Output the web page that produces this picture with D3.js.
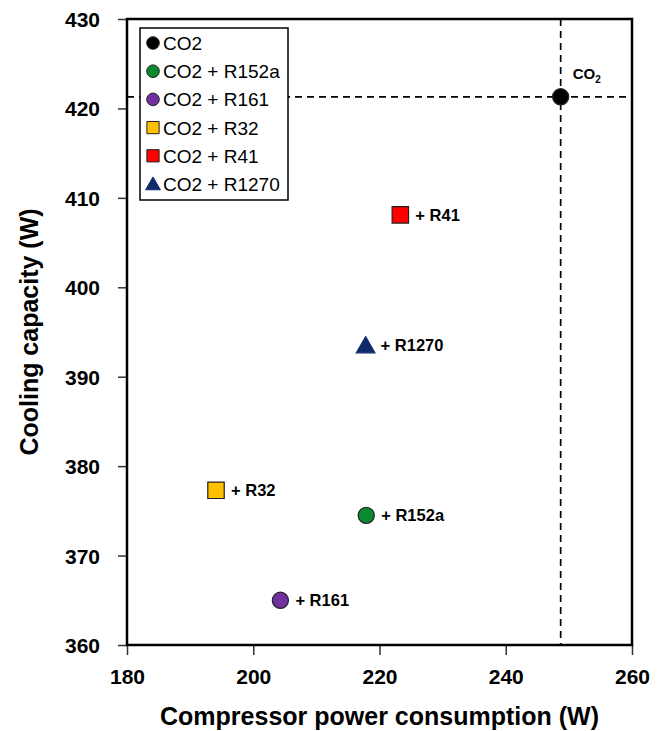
<!DOCTYPE html>
<html>
<head>
<meta charset="utf-8">
<script src="https://cdn.jsdelivr.net/npm/d3@7"></script>
<style>
  body { margin: 0; background: #fff; }
  svg { font-family: "Liberation Sans", Arial, sans-serif; }
</style>
</head>
<body>
<svg id="chart" width="668" height="731"></svg>
<script>
"use strict"

// data
var names   = ["CO2", "CO2 + R152a", "CO2 + R161", "CO2 + R32", "CO2 + R41", "CO2 + R1270"];
var labels  = ["CO2", "+ R152a", "+ R161", "+ R32", "+ R41", "+ R1270"];
var power   = [248.7, 217.9, 204.3, 194.1, 223.3, 217.8];
var cooling = [421.3, 374.5, 365.0, 377.3, 408.1, 393.5];
var shapes  = ["circle", "circle", "circle", "square", "square", "triangle"];
var fills   = ["#000000", "#0a8a2e", "#7030a0", "#ffc000", "#ff0000", "#0f2a6b"];
var xticks  = [180, 200, 220, 240, 260];
var yticks  = [360, 370, 380, 390, 400, 410, 420, 430];

var margin = {left: 127, top: 19, right: 36, bottom: 86};
var W = 668 - margin.left - margin.right;
var H = 731 - margin.top - margin.bottom;

var svg = d3.select("#chart");
var g = svg.append("g").attr("transform", "translate(" + margin.left + "," + margin.top + ")");

var x = d3.scaleLinear().domain([180, 260]).range([0, W]);
var y = d3.scaleLinear().domain([360, 430]).range([H, 0]);

var symbolFor = {
	circle:   d3.symbol().type(d3.symbolCircle).size(205),
	square:   d3.symbol().type(d3.symbolSquare).size(270),
	triangle: d3.symbol().type(d3.symbolTriangle).size(150)
};
var legendSymbol = {
	circle:   d3.symbol().type(d3.symbolCircle).size(125),
	square:   d3.symbol().type(d3.symbolSquare).size(150),
	triangle: d3.symbol().type(d3.symbolTriangle).size(95)
};

// axes
var xAxis = g.append("g")
	.attr("transform", "translate(0," + H + ")")
	.call(d3.axisBottom(x).tickValues(xticks).tickSize(10).tickPadding(14));
var yAxis = g.append("g")
	.call(d3.axisLeft(y).tickValues(yticks).tickSize(9).tickPadding(18));
[xAxis, yAxis].forEach(function(a){
	a.select(".domain").remove();
	a.selectAll("line").attr("stroke", "#333").attr("stroke-width", 1.5);
	a.selectAll("text")
	 .attr("fill", "#000")
	 .style("font-size", "21px")
	 .style("font-weight", "bold");
});
yAxis.selectAll("text").attr("dy", "0.36em");

// reference lines at the CO2 point
var dash = "7,5";
g.append("line")
	.attr("x1", x(power[0])).attr("x2", x(power[0]))
	.attr("y1", 0).attr("y2", H)
	.attr("stroke", "#000").attr("stroke-width", 1.7)
	.attr("stroke-dasharray", dash);
g.append("line")
	.attr("x1", 0).attr("x2", W)
	.attr("y1", y(cooling[0])).attr("y2", y(cooling[0]))
	.attr("stroke", "#000").attr("stroke-width", 1.7)
	.attr("stroke-dasharray", dash);

// plot frame
g.append("rect")
	.attr("width", W).attr("height", H)
	.attr("fill", "none")
	.attr("stroke", "#000")
	.attr("stroke-width", 2.5);

// points
var pts = names.map(function(n, i){
	return {name: n, label: labels[i], px: power[i], cy: cooling[i], shape: shapes[i], fill: fills[i]};
});

g.selectAll(".pt")
  .data(pts)
  .enter()
  .append("path")
  .attr("class", "pt")
  .attr("d", function(d){ return symbolFor[d.shape](); })
  .attr("transform", function(d){
  	var dy = d.shape == "triangle" ? 2 : 0;
  	return "translate(" + x(d.px) + "," + (y(d.cy) + dy) + ")";
  })
  .attr("fill", function(d){ return d.fill; })
  .attr("stroke", function(d){ return d.shape == "triangle" ? "#0f2a6b" : "#222"; })
  .attr("stroke-width", 1.2);

// point labels
g.selectAll(".plabel")
  .data(pts.slice(1))
  .enter()
  .append("text")
  .attr("class", "plabel")
  .attr("x", function(d){ return x(d.px) + 15; })
  .attr("y", function(d){ return y(d.cy) + 6; })
  .style("font-size", "16.5px")
  .style("font-weight", "bold")
  .text(function(d){ return d.label; });

var co2 = g.append("text")
	.attr("x", x(power[0]) + 12)
	.attr("y", y(cooling[0]) - 18)
	.style("font-size", "15px")
	.style("font-weight", "bold");
co2.append("tspan").text("CO");
co2.append("tspan").attr("dy", 4).style("font-size", "10px").text("2");

// legend
var lg = g.append("g").attr("transform", "translate(13,9)");
lg.append("rect")
	.attr("width", 148).attr("height", 172)
	.attr("fill", "#fff")
	.attr("stroke", "#000")
	.attr("stroke-width", 1.5);
var rows = lg.selectAll(".lrow")
	.data(pts)
	.enter()
	.append("g")
	.attr("class", "lrow")
	.attr("transform", function(d, i){ return "translate(13," + (15 + i * 28.2) + ")"; });
rows.append("path")
	.attr("d", function(d){ return legendSymbol[d.shape](); })
	.attr("transform", function(d){ return d.shape == "triangle" ? "translate(0,1.5)" : null; })
	.attr("fill", function(d){ return d.fill; })
	.attr("stroke", function(d){ return d.shape == "triangle" ? "#0f2a6b" : "#222"; })
	.attr("stroke-width", 1);
rows.append("text")
	.attr("x", 10)
	.attr("y", 7)
	.style("font-size", "19px")
	.text(function(d){ return d.name; });

// axis titles
svg.append("text")
	.attr("x", margin.left + W / 2)
	.attr("y", 725)
	.attr("text-anchor", "middle")
	.style("font-size", "25px")
	.style("font-weight", "bold")
	.text("Compressor power consumption (W)");
svg.append("text")
	.attr("transform", "translate(38," + (margin.top + H / 2) + ") rotate(-90)")
	.attr("text-anchor", "middle")
	.style("font-size", "25px")
	.style("font-weight", "bold")
	.text("Cooling capacity (W)");
</script>
</body>
</html>
